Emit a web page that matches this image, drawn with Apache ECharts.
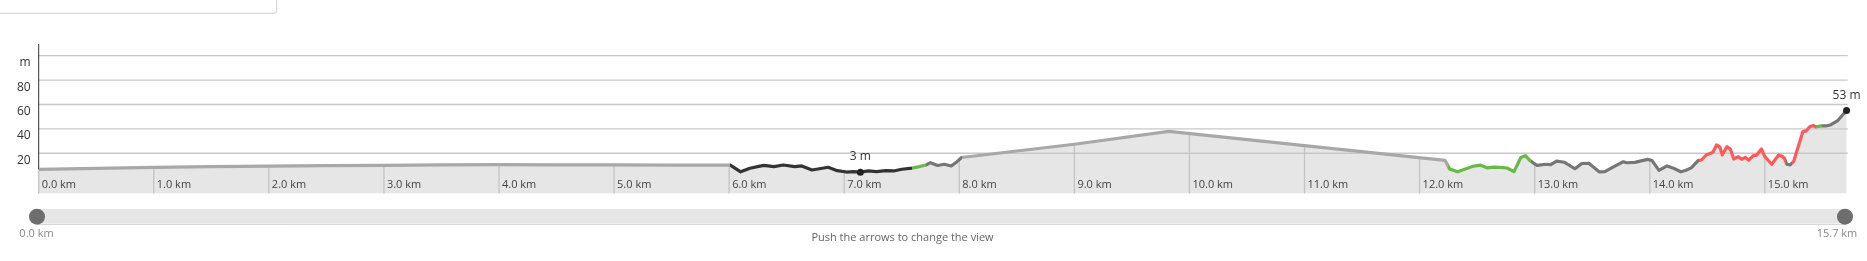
<!DOCTYPE html>
<html><head><meta charset="utf-8">
<script src="https://cdn.jsdelivr.net/npm/echarts@6/dist/echarts.min.js"></script>
<style>html,body{margin:0;padding:0;background:#fff;overflow:hidden}#c{width:1867px;height:261px}</style>
</head><body><div id="c"></div>
<script>
// ---- data (distance in km, elevation in m) ----
const kmValues = [
  0.00,0.50,1.00,1.50,2.00,2.50,3.00,3.50,4.00,4.50,5.00,5.50,6.01,
  6.10,6.18,6.30,6.39,6.47,6.57,6.63,6.72,6.81,6.86,6.94,7.02,7.08,7.14,7.21,7.28,7.36,7.43,7.50,7.59,
  7.65,7.71,
  7.75,7.81,7.87,7.93,7.98,8.02,
  9.00,9.82,11.00,12.22,
  12.26,12.33,12.41,12.47,12.53,12.59,12.64,12.70,12.76,12.82,12.88,12.92,12.96,
  13.02,13.10,13.14,13.19,13.26,13.35,13.41,13.47,13.56,13.61,13.70,13.77,13.80,13.87,13.98,14.02,14.08,14.15,14.20,14.27,14.31,14.36,14.42,
  14.45,14.49,14.53,14.55,14.58,14.61,14.63,14.67,14.70,14.73,14.77,14.80,14.83,14.86,14.90,14.93,14.97,15.00,15.06,15.12,15.15,15.17,
  15.19,15.22,15.25,
  15.33,15.36,15.39,15.42,15.44,
  15.49,
  15.53,15.57,15.63,15.67,15.71
];
const elevValues = [
  6.8,7.6,8.4,9.0,9.5,9.8,10.0,10.4,10.6,10.5,10.4,10.2,10.2,
  4.8,7.7,10.1,9.0,10.4,9.0,9.6,6.3,7.7,8.5,5.7,4.6,5.0,4.5,5.5,5.0,5.7,5.5,6.9,7.8,
  9.0,10.4,
  12.3,10.0,11.0,9.6,13.1,16.5,
  27.4,38.0,26.2,14.2,
  7.2,4.9,7.5,9.5,10.2,8.0,8.6,8.4,7.9,4.9,16.5,18.0,14.0,
  10.0,11.0,10.6,13.5,12.6,7.3,11.6,11.8,4.8,5.0,9.6,13.0,12.2,12.5,15.0,14.0,6.0,9.6,8.0,4.8,5.8,8.0,14.0,
  14.5,18.6,20.0,21.0,26.8,25.0,18.6,25.4,23.5,15.3,17.2,15.0,16.6,14.3,18.0,18.5,23.5,17.2,11.0,18.6,17.5,15.9,
  11.0,10.4,13.1,
  37.7,38.4,41.8,42.8,41.6,
  42.4,
  42.4,43.2,46.5,50.8,55.0
];
// surface segments: km where each segment starts, and its surface kind
const segmentStarts = [0, 6.01, 7.59, 7.71, 8.02, 12.25, 12.97, 14.43, 15.18, 15.235, 15.445, 15.50];
const segmentKinds  = ['unknown','paved','green','gravel','unknown','green','gravel','red','gravel','red','green','gravel'];
const xTickValues = [0,1,2,3,4,5,6,7,8,9,10,11,12,13,14,15];
const yTickValues = [20,40,60,80,100];
const yTickLabels = ['20','40','60','80','m'];
const extremeLabels = ['3 m','53 m'];
const hintText = 'Push the arrows to change the view';

// ---- styles ----
const kindColors = {unknown:'#a8a8a8', paved:'#333333', green:'#66bb46', gravel:'#767676', red:'#ff5a5a'};
const X_MIN = 0, X_MAX = 15.72, Y_MIN = -13, Y_MAX = 109.6;
const FONT = '"Open Sans", sans-serif';

const points = kmValues.map((k, i) => [k, elevValues[i]]);
function elevAt(k) {
  for (let i = 1; i < kmValues.length; i++) {
    if (k <= kmValues[i]) {
      const t = (k - kmValues[i-1]) / (kmValues[i] - kmValues[i-1]);
      return elevValues[i-1] + t * (elevValues[i] - elevValues[i-1]);
    }
  }
  return elevValues[elevValues.length - 1];
}
const pieces = segmentStarts.map((s, i) => ({
  gte: s, lt: i + 1 < segmentStarts.length ? segmentStarts[i+1] : 100,
  color: kindColors[segmentKinds[i]]
}));

const chart = echarts.init(document.getElementById('c'), null, {renderer: 'canvas'});
chart.setOption({
  animation: false,
  backgroundColor: '#fff',
  grid: {left: 38.7, right: 19.3, top: 44, bottom: 67.5},
  xAxis: {
    type: 'value', min: X_MIN, max: X_MAX, interval: 1, z: 5,
    axisLine: {show: false}, axisTick: {show: false}, splitLine: {show: false},
    axisLabel: {
      inside: true, margin: 3, align: 'left', padding: [0,0,0,3],
      showMaxLabel: false,
      color: '#444', fontSize: 11, fontFamily: FONT,
      formatter: v => Number.isInteger(v) ? v.toFixed(1) + ' km' : ''
    }
  },
  yAxis: {
    type: 'value', min: Y_MIN, max: Y_MAX, z: 5,
    axisLine: {show: false}, axisTick: {show: false}, splitLine: {show: false},
    axisLabel: {
      customValues: yTickValues,
      margin: 8, color: '#333', fontSize: 12, fontFamily: FONT,
      verticalAlign: 'top', lineHeight: 14,
      formatter: v => yTickLabels[yTickValues.indexOf(v)] ?? ''
    }
  },
  visualMap: {type: 'piecewise', show: false, dimension: 0, seriesIndex: 3, pieces: pieces},
  series: [
    { // area fill
      type: 'line', data: points, symbol: 'none', silent: true, z: 1,
      lineStyle: {width: 0}, areaStyle: {color: '#e6e6e6', origin: 'start', opacity: 1}
    },
    { // horizontal grid lines
      type: 'custom', silent: true, z: 2,
      data: yTickValues.map(v => [X_MIN, v]),
      renderItem: (p, api) => {
        const a = api.coord([X_MIN, api.value(1)]), b = api.coord([X_MAX, api.value(1)]);
        return {type: 'line', shape: {x1: a[0], y1: a[1], x2: b[0], y2: b[1]},
                style: {stroke: '#c8c8c8', lineWidth: 1.3}};
      }
    },
    { // km lines below the profile + y axis line
      type: 'custom', silent: true, z: 2,
      data: xTickValues.map(k => [k, elevAt(k)]),
      renderItem: (p, api) => {
        const k = api.value(0), e = api.value(1);
        const p0 = api.coord([k, Y_MIN]), p1 = api.coord([k, e]);
        const children = [{type: 'line', shape: {x1: p0[0], y1: p0[1], x2: p1[0], y2: p1[1]},
                           style: {stroke: '#c4c4c4', lineWidth: 1.3}}];
        if (k === X_MIN) {
          const p2 = api.coord([k, Y_MAX]);
          children.push({type: 'line', shape: {x1: p1[0], y1: p1[1], x2: p2[0], y2: p2[1]},
                         style: {stroke: '#333', lineWidth: 1}});
        }
        return {type: 'group', children};
      }
    },
    { // profile line
      type: 'line', data: points, symbol: 'none', z: 3, silent: true,
      lineStyle: {width: 3.2, join: 'round', cap: 'round'},
      markPoint: {
        symbol: 'circle', symbolSize: 7,
        itemStyle: {color: '#222'},
        label: {show: true, position: 'top', distance: 6, color: '#333', fontSize: 12, fontFamily: FONT},
        data: [
          {type: 'min', label: {formatter: extremeLabels[0]}},
          {type: 'max', label: {formatter: extremeLabels[1]}}
        ]
      }
    }
  ],
  graphic: [
    {type: 'rect', shape: {x: -2, y: -20, width: 278.7, height: 33.3, r: 3},
     style: {fill: '#fff', stroke: '#cccccc', lineWidth: 1}},
    {type: 'rect', shape: {x: 37, y: 209, width: 1808, height: 14.3}, style: {fill: '#e6e6e6'}},
    {type: 'line', shape: {x1: 37, y1: 224.3, x2: 1845, y2: 224.3}, style: {stroke: '#cfcfcf', lineWidth: 1}},
    {type: 'circle', shape: {cx: 37, cy: 216.7, r: 8}, style: {fill: '#6e6e6e'}},
    {type: 'circle', shape: {cx: 1845, cy: 216.7, r: 8}, style: {fill: '#6e6e6e'}},
    {type: 'text', x: 36.5, y: 234.3, style: {text: kmValues[0].toFixed(1) + ' km', fill: '#888', font: '11px ' + FONT, align: 'center', verticalAlign: 'middle'}},
    {type: 'text', x: 1837, y: 234.3, style: {text: X_MAX.toFixed(1) + ' km', fill: '#888', font: '11px ' + FONT, align: 'center', verticalAlign: 'middle'}},
    {type: 'text', x: 902.5, y: 237.5, style: {text: hintText, fill: '#666', font: '11px ' + FONT, align: 'center', verticalAlign: 'middle'}}
  ]
});
</script>
</body></html>
